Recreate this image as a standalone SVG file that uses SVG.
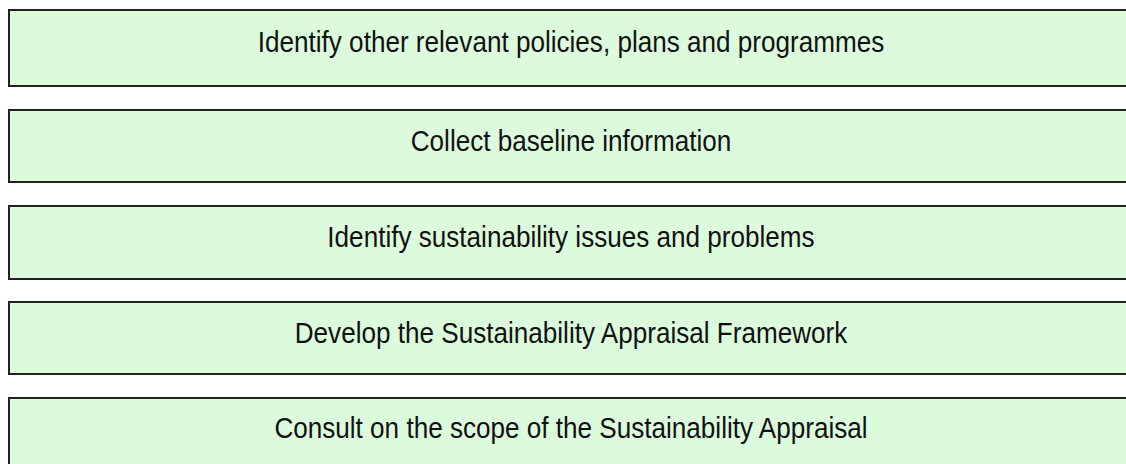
<svg xmlns="http://www.w3.org/2000/svg" width="1126" height="464" viewBox="0 0 1126 464">
<style>
.box{fill:#dcfadc;stroke:#222;stroke-width:2}
.lbl{font-family:"Liberation Sans",Arial,sans-serif;font-size:29px;fill:#111;text-anchor:middle}
</style>
<rect width="1126" height="464" fill="#fff"/>
<g id="n1"><rect class="box" x="9" y="10" width="1130" height="76"/><text class="lbl" transform="translate(571,52) scale(0.9,1)">Identify other relevant policies, plans and programmes</text></g>
<g id="n2"><rect class="box" x="9" y="110" width="1130" height="72"/><text class="lbl" transform="translate(571,151) scale(0.9,1)">Collect baseline information</text></g>
<g id="n3"><rect class="box" x="9" y="206" width="1130" height="73"/><text class="lbl" transform="translate(571,247) scale(0.9,1)">Identify sustainability issues and problems</text></g>
<g id="n4"><rect class="box" x="9" y="302" width="1130" height="72"/><text class="lbl" transform="translate(571,343) scale(0.9,1)">Develop the Sustainability Appraisal Framework</text></g>
<g id="n5"><rect class="box" x="9" y="398" width="1130" height="80"/><text class="lbl" transform="translate(571,438) scale(0.9,1)">Consult on the scope of the Sustainability Appraisal</text></g>
<g id="connectors"></g>
</svg>
